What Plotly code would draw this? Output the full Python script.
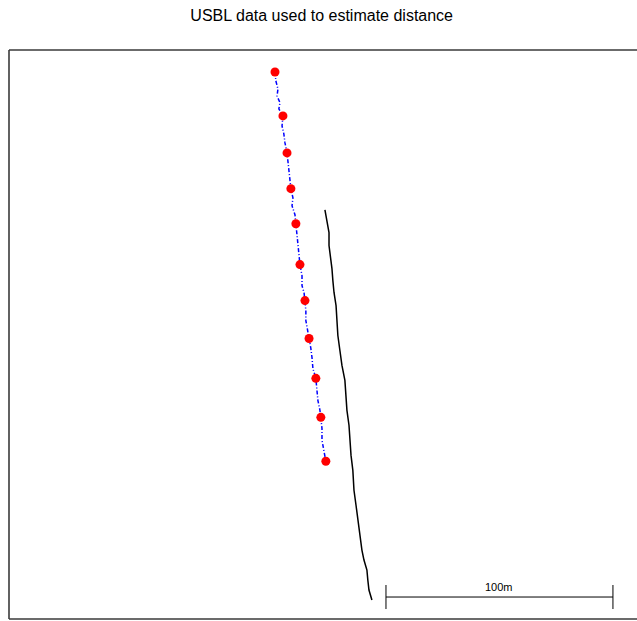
import plotly.graph_objects as go

# USBL fixes (metres, local easting/northing)
usbl_x = [117.2, 120.7, 122.5, 124.2, 126.4, 128.2, 130.4, 132.2, 135.2, 137.4, 139.6]
usbl_y = [241.4, 222.0, 205.7, 189.9, 174.4, 156.4, 140.5, 123.8, 106.2, 89.0, 69.6]

# interpolated USBL track (blue)
track_x = [117.2, 117.6, 118.5, 118.1, 119.4, 118.9, 120.7, 120.3, 121.1, 121.6, 122.5,
           122.9, 123.3, 123.8, 124.2, 125.1, 124.7, 126.0, 126.4, 126.9, 127.3, 127.8,
           128.2, 129.1, 129.1, 130.0, 130.4, 130.8, 130.8, 131.7, 132.2, 133.0, 133.5,
           133.9, 135.2, 135.7, 136.1, 137.0, 137.4, 137.9, 137.9, 138.8, 139.6]
track_y = [241.4, 237.4, 233.9, 230.8, 227.8, 225.1, 222.0, 217.6, 214.1, 210.1, 205.7,
           202.2, 197.8, 193.4, 189.9, 185.9, 182.4, 178.4, 174.4, 170.5, 164.8, 160.4,
           156.4, 151.5, 147.1, 144.1, 140.5, 136.1, 131.7, 127.3, 123.8, 119.4, 115.4,
           110.6, 106.2, 100.9, 96.5, 92.1, 89.0, 84.1, 78.9, 74.4, 69.6]

# ship / reference track (black)
ship_x = [139.2, 140.1, 141.0, 141.0, 141.9, 142.3, 142.7, 143.2, 144.1, 144.5, 144.9,
          145.8, 146.7, 148.0, 148.5, 148.9, 149.8, 150.2, 150.7, 151.5, 152.0, 152.9,
          153.7, 154.6, 155.5, 156.4, 157.7, 158.1, 158.6, 159.9]
ship_y = [180.6, 175.8, 170.5, 164.8, 159.0, 154.6, 149.3, 144.1, 138.3, 131.7, 125.1,
          118.5, 111.9, 105.3, 98.7, 92.1, 85.5, 78.9, 72.2, 65.6, 56.8, 50.2,
          43.6, 37.0, 30.4, 26.0, 21.6, 17.2, 12.8, 8.4]

# scale bar
scale_start = 166.1
scale_len = 100.0
scale_y = 9.7
scale_tick_lo = 4.4
scale_tick_hi = 15.0
scale_label = "100m"

x_range = [0, 276.7]
y_range = [0, 251.1]

fig = go.Figure()

fig.add_trace(go.Scatter(x=ship_x, y=ship_y, mode="lines",
                         line=dict(color="black", width=1.5), hoverinfo="skip"))
fig.add_trace(go.Scatter(x=track_x, y=track_y, mode="lines",
                         line=dict(color="blue", width=1.5, dash="4px,2px,1px,2px"),
                         hoverinfo="skip"))
fig.add_trace(go.Scatter(x=usbl_x, y=usbl_y, mode="markers",
                         marker=dict(color="red", size=9, line=dict(width=0))))

# scale bar
x0 = scale_start
x1 = scale_start + scale_len
fig.add_trace(go.Scatter(x=[x0, x1], y=[scale_y, scale_y], mode="lines",
                         line=dict(color="black", width=1), hoverinfo="skip"))
fig.add_trace(go.Scatter(x=[x0, x0], y=[scale_tick_lo, scale_tick_hi], mode="lines",
                         line=dict(color="black", width=1), hoverinfo="skip"))
fig.add_trace(go.Scatter(x=[x1, x1], y=[scale_tick_lo, scale_tick_hi], mode="lines",
                         line=dict(color="black", width=1), hoverinfo="skip"))
fig.add_annotation(x=(x0 + x1) / 2, y=scale_y, text=scale_label, showarrow=False,
                   yanchor="bottom", yshift=2,
                   font=dict(family="Liberation Sans, Arial", size=11, color="black"))

# box (left, top, bottom; right edge lies outside the window)
border = dict(color="#3a3a3a", width=1.6)
fig.add_shape(type="line", xref="paper", yref="paper", x0=0, x1=0, y0=0, y1=1, line=border)
fig.add_shape(type="line", xref="paper", yref="paper", x0=0, x1=1.01, y0=1, y1=1, line=border)
fig.add_shape(type="line", xref="paper", yref="paper", x0=0, x1=1.01, y0=0, y1=0, line=border)

fig.update_layout(
    width=637, height=621,
    margin=dict(l=9, r=0, t=50, b=2),
    paper_bgcolor="white", plot_bgcolor="white",
    showlegend=False,
    title=dict(text="USBL data used to estimate distance", x=0.505, xanchor="center",
               y=1 - 15 / 621, yanchor="middle",
               font=dict(family="Liberation Sans, Arial", size=16, color="black")),
    xaxis=dict(range=x_range, visible=False, showgrid=False, zeroline=False),
    yaxis=dict(range=y_range, visible=False, showgrid=False, zeroline=False),
)

fig.write_html("out.html")
